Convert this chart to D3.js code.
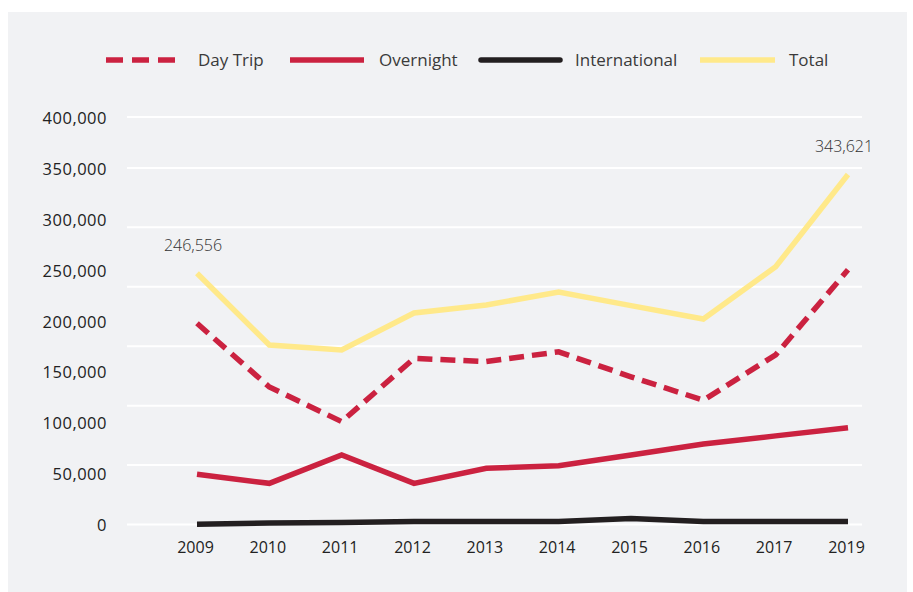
<!DOCTYPE html>
<html>
<head>
<meta charset="utf-8">
<script src="https://cdn.jsdelivr.net/npm/d3@7"></script>
<style>
  body { margin: 0; background: #fff; }
  text { font-family: "Open Sans", "Noto Sans", sans-serif; }
</style>
</head>
<body>
<svg id="chart" width="913" height="592"></svg>
<script>
// years on the axis (2018 is not in the source chart)
var years = ["2009", "2010", "2011", "2012", "2013", "2014", "2015", "2016", "2017", "2019"];
var dayTrip = [197500, 135000, 101000, 163000, 160000, 169500, 145000, 122000, 166500, 250000];
var overnight = [49300, 40400, 68200, 40400, 55200, 57700, 68200, 79000, 87000, 95000];
var international = [300, 1500, 2000, 3000, 3000, 3000, 6000, 3000, 3000, 3000];
var total = [246556, 176200, 171300, 207600, 215500, 228200, 214800, 201700, 253000, 343621];

var yTicks = [0, 50000, 100000, 150000, 200000, 250000, 300000, 350000, 400000];
var gridTicks = [0, 58333, 116667, 175000, 233333, 291667, 350000, 400000];

var legendNames = ["Day Trip", "Overnight", "International", "Total"];

var red = "#cb2240";
var black = "#231f20";
var yellow = "#ffe98a";

var svg = d3.select("#chart");

svg.append("rect")
	.attr("x", 8).attr("y", 12)
	.attr("width", 899).attr("height", 580)
	.attr("fill", "#f1f2f4");

var x = d3.scalePoint()
	.domain(years)
	.range([197, 848]);

var y = d3.scaleLinear()
	.domain([0, 400000])
	.range([524.5, 117]);

// light grid lines
svg.append("g")
	.selectAll("line")
	.data(gridTicks)
	.enter()
	.append("line")
	.attr("x1", 127)
	.attr("x2", 862)
	.attr("y1", function(d){ return y(d); })
	.attr("y2", function(d){ return y(d); })
	.attr("stroke", "#ffffff")
	.attr("stroke-width", 2);

// y axis labels
var yAxis = d3.axisLeft(y)
	.tickValues(yTicks)
	.tickSize(0)
	.tickPadding(0)
	.tickFormat(d3.format(","));

svg.append("g")
	.attr("transform", "translate(107,1)")
	.call(yAxis)
	.call(function(g){
		g.select(".domain").remove();
		g.selectAll("text")
			.attr("font-size", 16.5)
			.attr("letter-spacing", 0.5)
			.attr("fill", "#222");
	});

// x axis labels
var xAxis = d3.axisBottom(x)
	.tickSize(0)
	.tickPadding(0);

svg.append("g")
	.attr("transform", "translate(-2,542)")
	.call(xAxis)
	.call(function(g){
		g.select(".domain").remove();
		g.selectAll("text")
			.attr("font-size", 16)
			.attr("fill", "#222");
	});

var line = d3.line()
	.x(function(d, i){ return x(years[i]); })
	.y(function(d){ return y(d); });

var series = [
	{ values: total, color: yellow, dash: null },
	{ values: dayTrip, color: red, dash: "15,8" },
	{ values: overnight, color: red, dash: null },
	{ values: international, color: black, dash: null }
];

svg.append("g")
	.selectAll("path")
	.data(series)
	.enter()
	.append("path")
	.attr("d", function(d){ return line(d.values); })
	.attr("fill", "none")
	.attr("stroke", function(d){ return d.color; })
	.attr("stroke-width", 5.5)
	.attr("stroke-dasharray", function(d){ return d.dash; })
	.attr("stroke-linejoin", "miter");

// value notes on the total line
var notes = [0, years.length - 1];
svg.append("g")
	.selectAll("text")
	.data(notes)
	.enter()
	.append("text")
	.attr("x", function(i){ return x(years[i]) - 4; })
	.attr("y", function(i){ return y(total[i]) - 22; })
	.attr("text-anchor", "middle")
	.attr("font-size", 16)
	.attr("font-weight", 300)
	.attr("fill", "#333")
	.text(function(i){ return d3.format(",")(total[i]); });

// legend
var legendItems = [
	{ name: legendNames[0], color: red, dash: "17,9", x1: 106, x2: 182, tx: 198 },
	{ name: legendNames[1], color: red, dash: null, x1: 290, x2: 364, tx: 379 },
	{ name: legendNames[2], color: black, dash: null, x1: 481, x2: 560, tx: 575 },
	{ name: legendNames[3], color: yellow, dash: null, x1: 700, x2: 775, tx: 789 }
];

var legend = svg.append("g")
	.selectAll("g")
	.data(legendItems)
	.enter()
	.append("g");

legend.append("line")
	.attr("x1", function(d){ return d.x1; })
	.attr("x2", function(d){ return d.x2; })
	.attr("y1", 60).attr("y2", 60)
	.attr("stroke", function(d){ return d.color; })
	.attr("stroke-width", 5.5)
	.attr("stroke-linecap", function(d){ return d.name == "International" ? "round" : "butt"; })
	.attr("stroke-dasharray", function(d){ return d.dash; });

legend.append("text")
	.attr("x", function(d){ return d.tx; })
	.attr("y", 66)
	.attr("font-size", 17)
	.attr("fill", "#3a3a3a")
	.text(function(d){ return d.name; });
</script>
</body>
</html>
